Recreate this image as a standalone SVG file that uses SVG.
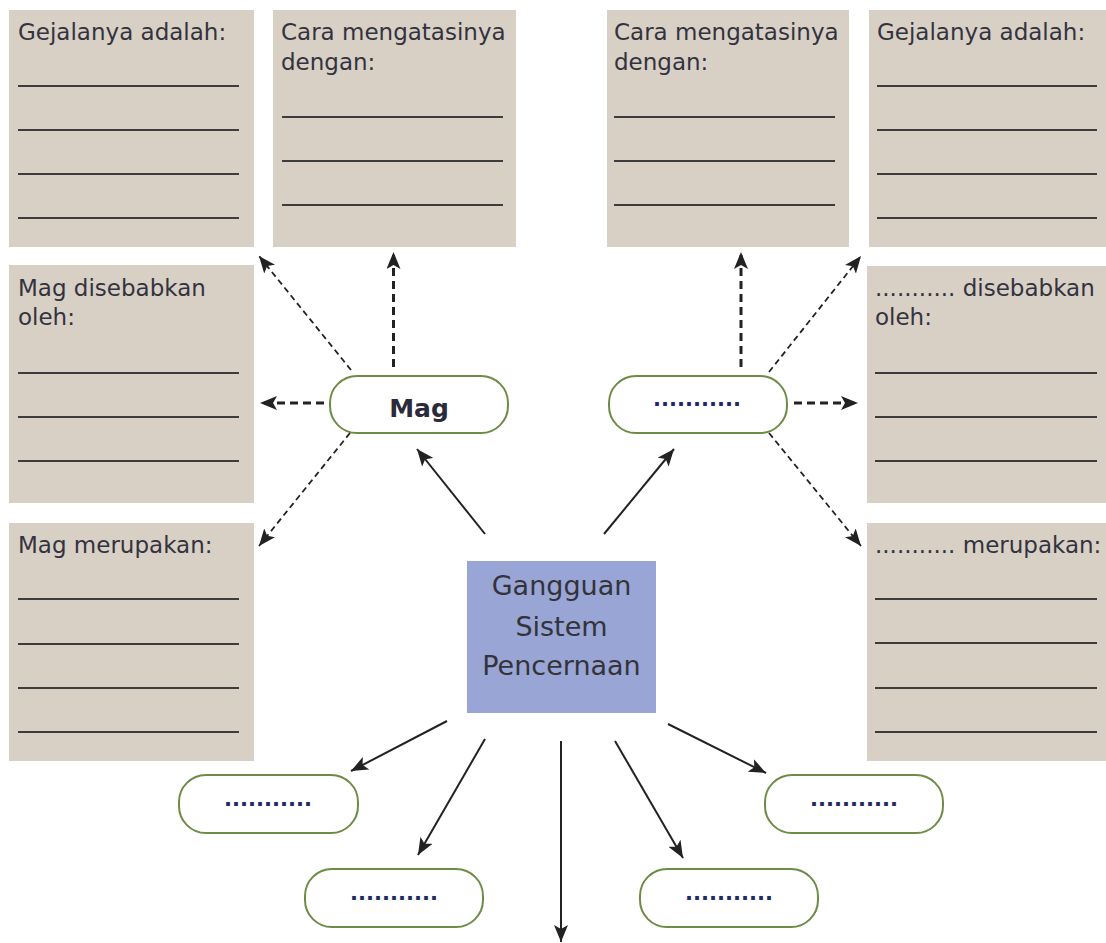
<svg xmlns="http://www.w3.org/2000/svg" width="1106" height="943" viewBox="0 0 1106 943">
<defs>
<style>
.box{fill:#d8d0c5}
.ln{stroke:#3c3c3c;stroke-width:2}
.t{font-family:"DejaVu Sans","Liberation Sans",sans-serif;font-size:23px;fill:#33333f}
.pill{fill:#fff;stroke:#6e8c45;stroke-width:2}
.dots{font-family:"DejaVu Sans","Liberation Sans",sans-serif;font-size:21px;font-weight:bold;fill:#1f2a5e;text-anchor:middle}
.solid{stroke:#222;stroke-width:2;fill:none}
.dh{stroke:#222;stroke-width:3;stroke-dasharray:8 5;fill:none}
.dd{stroke:#222;stroke-width:1.8;stroke-dasharray:6 4;fill:none}
</style>
<marker id="ah" markerUnits="userSpaceOnUse" markerWidth="18" markerHeight="14" refX="17" refY="7" orient="auto">
<path d="M0,0 L17,7 L0,14 L4,7 z" fill="#222"/>
</marker>
</defs>
<rect width="1106" height="943" fill="#fff"/>

<g id="box-gejala-left">
<rect class="box" x="9" y="10" width="245" height="237"/>
<text class="t" x="18" y="40">Gejalanya adalah:</text>
<path class="ln" d="M18 86H239M18 130H239M18 174H239M18 218H239"/>
</g>
<g id="box-cara-left">
<rect class="box" x="273" y="10" width="243" height="237"/>
<text class="t" x="281" y="40">Cara mengatasinya</text>
<text class="t" x="281" y="70">dengan:</text>
<path class="ln" d="M282 117H503M282 161H503M282 205H503"/>
</g>
<g id="box-sebab-left">
<rect class="box" x="9" y="265" width="245" height="238"/>
<text class="t" x="18" y="296">Mag disebabkan</text>
<text class="t" x="18" y="325">oleh:</text>
<path class="ln" d="M18 373H239M18 417H239M18 461H239"/>
</g>
<g id="box-merupakan-left">
<rect class="box" x="9" y="523" width="245" height="238"/>
<text class="t" x="18" y="553">Mag merupakan:</text>
<path class="ln" d="M18 599H239M18 644H239M18 688H239M18 732H239"/>
</g>

<g id="box-cara-right">
<rect class="box" x="607" y="10" width="242" height="237"/>
<text class="t" x="614" y="40">Cara mengatasinya</text>
<text class="t" x="614" y="70">dengan:</text>
<path class="ln" d="M614 117H835M614 161H835M614 205H835"/>
</g>
<g id="box-gejala-right">
<rect class="box" x="869" y="10" width="237" height="237"/>
<text class="t" x="877" y="40">Gejalanya adalah:</text>
<path class="ln" d="M877 86H1097M877 130H1097M877 174H1097M877 218H1097"/>
</g>
<g id="box-sebab-right">
<rect class="box" x="867" y="266" width="239" height="237"/>
<text class="t" x="875" y="296">........... disebabkan</text>
<text class="t" x="875" y="325">oleh:</text>
<path class="ln" d="M875 373H1097M875 417H1097M875 461H1097"/>
</g>
<g id="box-merupakan-right">
<rect class="box" x="867" y="523" width="239" height="238"/>
<text class="t" x="875" y="553">........... merupakan:</text>
<path class="ln" d="M875 599H1097M875 643H1097M875 688H1097M875 732H1097"/>
</g>

<g id="center">
<rect x="467" y="561" width="189" height="152" fill="#99a5d5"/>
<g font-family="DejaVu Sans, Liberation Sans, sans-serif" font-size="27" fill="#33333a" text-anchor="middle">
<text x="561.5" y="595">Gangguan</text>
<text x="561.5" y="636">Sistem</text>
<text x="561.5" y="675">Pencernaan</text>
</g>
</g>

<g id="pill-mag">
<rect class="pill" x="330" y="376" width="178" height="57" rx="27"/>
<text x="419" y="417" font-family="DejaVu Sans, Liberation Sans, sans-serif" font-size="25" font-weight="bold" fill="#2a2a3a" text-anchor="middle">Mag</text>
</g>
<g id="pill-right">
<rect class="pill" x="609" y="376" width="178" height="57" rx="27"/>
<text class="dots" x="697" y="406">...........</text>
</g>
<g id="pill-bottom-1">
<rect class="pill" x="179" y="775" width="179" height="58" rx="27"/>
<text class="dots" x="268" y="806">...........</text>
</g>
<g id="pill-bottom-2">
<rect class="pill" x="305" y="869" width="178" height="58" rx="27"/>
<text class="dots" x="394" y="900">...........</text>
</g>
<g id="pill-bottom-3">
<rect class="pill" x="640" y="869" width="178" height="58" rx="27"/>
<text class="dots" x="729" y="900">...........</text>
</g>
<g id="pill-bottom-4">
<rect class="pill" x="765" y="775" width="178" height="58" rx="27"/>
<text class="dots" x="854" y="806">...........</text>
</g>

<g id="connectors">
<line class="solid" x1="485" y1="534" x2="417" y2="449" marker-end="url(#ah)"/>
<line class="solid" x1="604" y1="534" x2="674" y2="449" marker-end="url(#ah)"/>
<line class="solid" x1="447" y1="721" x2="351" y2="771" marker-end="url(#ah)"/>
<line class="solid" x1="485" y1="739" x2="418" y2="855" marker-end="url(#ah)"/>
<line class="solid" x1="561" y1="741" x2="561" y2="942" marker-end="url(#ah)"/>
<line class="solid" x1="615" y1="741" x2="683" y2="858" marker-end="url(#ah)"/>
<line class="solid" x1="668" y1="724" x2="766" y2="773" marker-end="url(#ah)"/>

<line class="dd" x1="351" y1="370" x2="259" y2="256" marker-end="url(#ah)"/>
<line class="dh" x1="393.5" y1="367" x2="393.5" y2="252" marker-end="url(#ah)"/>
<line class="dh" x1="324" y1="403" x2="260" y2="403" marker-end="url(#ah)"/>
<line class="dd" x1="350" y1="433" x2="259" y2="546" marker-end="url(#ah)"/>

<line class="dh" x1="741" y1="367" x2="741" y2="252" marker-end="url(#ah)"/>
<line class="dd" x1="769" y1="372" x2="861" y2="256" marker-end="url(#ah)"/>
<line class="dh" x1="794" y1="403" x2="858" y2="403" marker-end="url(#ah)"/>
<line class="dd" x1="769" y1="433" x2="861" y2="546" marker-end="url(#ah)"/>
</g>
</svg>
